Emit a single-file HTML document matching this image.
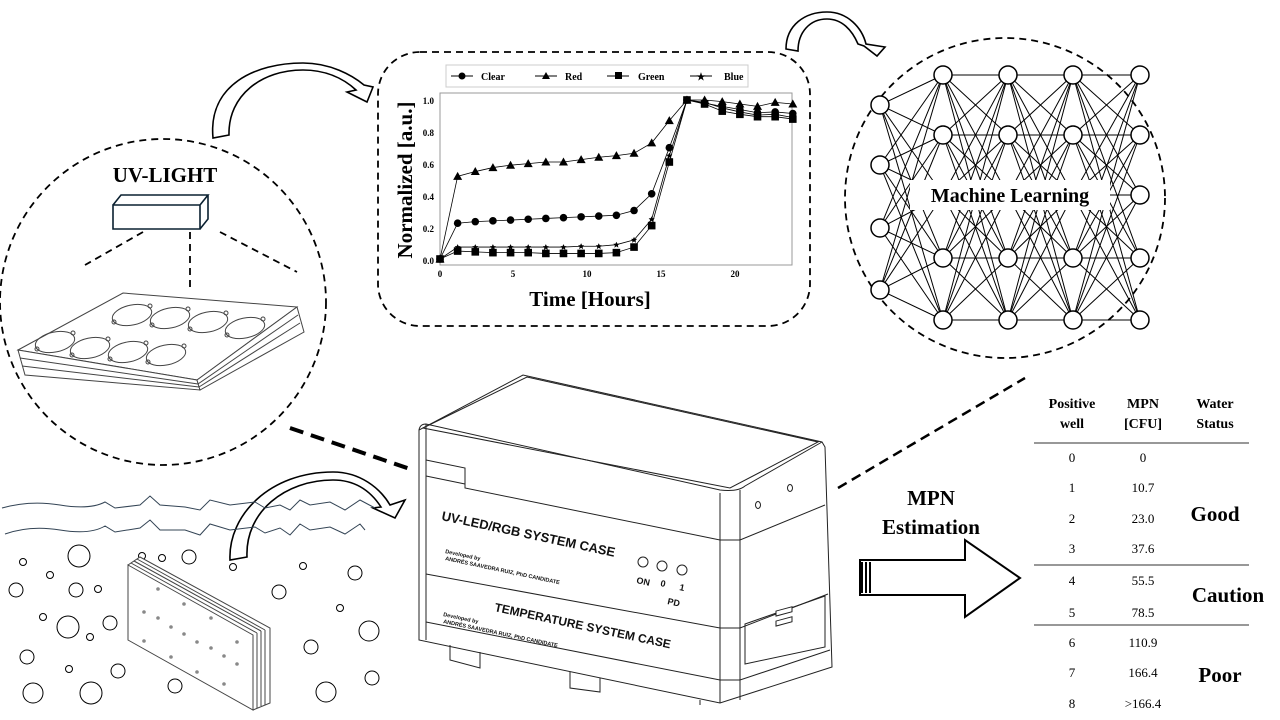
<!DOCTYPE html>
<html><head><meta charset="utf-8"><style>
html,body{margin:0;padding:0;background:#fff;}
svg{display:block;font-family:"Liberation Serif",serif;}
.s{font-family:"Liberation Sans",sans-serif;}
</style></head><body>
<svg id="sv" width="1280" height="720" viewBox="0 0 1280 720" xmlns="http://www.w3.org/2000/svg">
<rect width="1280" height="720" fill="#fff"/>
<circle cx="163" cy="302" r="163" fill="none" stroke="#000" stroke-width="1.8" stroke-dasharray="7,5"/>
<rect x="378" y="52" width="432" height="274" rx="42" fill="none" stroke="#000" stroke-width="1.8" stroke-dasharray="7,5"/>
<circle cx="1005" cy="198" r="160" fill="none" stroke="#000" stroke-width="1.8" stroke-dasharray="7,5"/>
<line x1="290" y1="428" x2="413" y2="470" stroke="#000" stroke-width="4" stroke-dasharray="14,8"/>
<line x1="838" y1="488" x2="1025" y2="378" stroke="#000" stroke-width="2.5" stroke-dasharray="10,6"/>

<g fill="#fff" stroke="#000" stroke-width="1.6">
<path d="M213,138 C208,85 255,63 303,63 C330,63 352,75 364,85 L373,87 L367,102 L347,92 L356,90 C343,78 325,70 303,70 C262,70 228,95 229,135 Z"/>
<path d="M786,49 C786,25 805,12 827,12 C848,12 862,28 866,44 L885,47 L877,56 L864,46 L858,44 C852,30 842,19 827,19 C810,19 798,32 798,51 Z"/>
<path d="M230,560 C228,515 270,472 333,472 C360,472 380,488 390,505 L405,500 L395,518 L373,508 L381,507 C370,490 355,480 333,480 C285,480 245,512 247,557 Z"/>
</g>

<text x="165" y="182" font-size="21" font-weight="bold" text-anchor="middle">UV-LIGHT</text>
<g fill="none" stroke="#0a2030" stroke-width="1.6">
<path d="M113,205 L200,205 L200,229 L113,229 Z M113,205 L121,195 L208,195 L200,205 M208,195 L208,219 L200,229"/>
</g>
<g stroke="#000" stroke-width="1.8" stroke-dasharray="7,5">
<line x1="143" y1="232" x2="85" y2="265"/><line x1="190" y1="232" x2="190" y2="290"/><line x1="220" y1="232" x2="297" y2="272"/>
</g>
<g fill="#fff" stroke="#444" stroke-width="1">
<path d="M18,350 L123,293 L297,307 L197,380 Z"/>
<path d="M18,350 L197,380 L200,390 L25,375 Z"/>
<path d="M197,380 L297,307 L304,332 L200,390 Z"/>
<line x1="20" y1="358" x2="198" y2="384"/><line x1="22" y1="366" x2="199" y2="387"/>
<line x1="298" y1="315" x2="198" y2="384"/><line x1="300" y1="323" x2="199" y2="387"/>
</g>
<g id="wells" fill="none" stroke="#444" stroke-width="1"></g>

<g fill="none" stroke="#345" stroke-width="1">
<path d="M2,508 Q30,500 60,505 T105,502 L115,508 L140,505 L150,496 L160,505 L185,507 L200,510 L210,500 L230,505 L255,502 L265,508 L280,505 L290,510 L300,500 L310,505 L330,502 L345,510 L360,500 L375,508"/>
<path d="M5,534 Q30,525 60,530 T105,526 L115,532 L140,528 L150,520 L160,530 L185,530 L200,535 L210,524 L230,530 L255,527 L265,533 L280,528 L290,535 L300,524 L310,530 L330,527 L345,534 L360,524 L365,530"/>
</g>
<g id="bub" fill="none" stroke="#000" stroke-width="1"></g>
<g fill="#fff" stroke="#444" stroke-width="1">
<path d="M128,565 L140,557 L270,628 L270,703 L253,710 Z"/>
<path d="M128,565 L253,635 L253,710 L128,640 Z"/>
<line x1="131" y1="563" x2="257" y2="633"/><line x1="134" y1="561" x2="261" y2="631"/><line x1="137" y1="559" x2="265" y2="630"/>
<line x1="257" y1="633" x2="257" y2="708"/><line x1="261" y1="631" x2="261" y2="706"/><line x1="265" y1="630" x2="265" y2="705"/>
</g>
<g id="dots" fill="#888"></g>

<g class="s" font-weight="bold" font-size="10">
<rect x="446" y="65" width="302" height="22" fill="#fff" stroke="#ccc"/>
<line x1="451" y1="76" x2="473" y2="76" stroke="#000"/><circle cx="462" cy="76" r="3.5"/><text x="481" y="80" font-family="Liberation Serif">Clear</text>
<line x1="535" y1="76" x2="557" y2="76" stroke="#000"/><path d="M546,72 L550,79 L542,79Z"/><text x="565" y="80" font-family="Liberation Serif">Red</text>
<line x1="607" y1="76" x2="629" y2="76" stroke="#000"/><rect x="615" y="72" width="7" height="7"/><text x="638" y="80" font-family="Liberation Serif">Green</text>
<line x1="690" y1="76" x2="712" y2="76" stroke="#000"/><text x="701" y="80" text-anchor="middle" font-size="10">★</text><text x="724" y="80" font-family="Liberation Serif">Blue</text>
</g>
<rect x="440" y="93" width="352" height="172" fill="none" stroke="#999"/>
<g font-size="9" font-weight="bold">
<text x="434" y="104" text-anchor="end">1.0</text><text x="434" y="136" text-anchor="end">0.8</text><text x="434" y="168" text-anchor="end">0.6</text><text x="434" y="200" text-anchor="end">0.4</text><text x="434" y="232" text-anchor="end">0.2</text><text x="434" y="264" text-anchor="end">0.0</text>
<text x="440" y="277" text-anchor="middle">0</text><text x="513" y="277" text-anchor="middle">5</text><text x="587" y="277" text-anchor="middle">10</text><text x="661" y="277" text-anchor="middle">15</text><text x="735" y="277" text-anchor="middle">20</text>
</g>
<text x="590" y="306" font-size="21" font-weight="bold" text-anchor="middle">Time [Hours]</text>
<text transform="translate(412,180) rotate(-90)" font-size="21" font-weight="bold" text-anchor="middle">Normalized [a.u.]</text>
<g id="chart"></g>

<g id="nn" stroke="#000" stroke-width="1"></g>
<rect x="910" y="180" width="200" height="30" fill="#fff"/>
<text x="1010" y="202" font-size="20" font-weight="bold" text-anchor="middle">Machine Learning</text>

<g fill="#fff" stroke="#222" stroke-width="1">
<path d="M419,430 L419,640 L720,703 L832,667 L825,447 L822,442 L523,375 Z"/>
<path d="M423,428 L527,377 L818,442 L730,488 Z" fill="#fff"/>
<path d="M419,430 Q420,424 426,424 L720,490 Q738,492 745,486 L822,442" fill="none"/>
<path d="M426,424 L426,640 M720,493 L720,703 M740,490 L740,700" fill="none"/>
<path d="M426,460 L465,468 L465,488 L720,540 L740,540 L825,505" fill="none"/>
<path d="M426,476 L465,484" fill="none"/>
<path d="M426,574 L720,628 L740,628 L828,594" fill="none"/>
<path d="M426,622 L720,680 L740,680 L830,650" fill="none"/>
<path d="M745,624 L825,596 L825,647 L745,664 Z" fill="none"/>
<rect x="776" y="614" width="16" height="5" transform="skewY(-15) translate(0,205)"/>
<rect x="776" y="624" width="16" height="5" transform="skewY(-15) translate(0,205)"/>
<path d="M450,645 L450,660 L480,668 L480,652 M570,672 L570,688 L600,692 L600,678 M700,700 L700,705" fill="none"/>
<ellipse cx="758" cy="505" rx="2.5" ry="3.5"/><ellipse cx="790" cy="488" rx="2.5" ry="3.5"/>
<circle cx="643" cy="562" r="5"/><circle cx="662" cy="566" r="5"/><circle cx="682" cy="570" r="5"/>
</g>
<g class="s" font-weight="bold" fill="#111">
<text transform="translate(441,520) rotate(12)" font-size="13">UV-LED/RGB SYSTEM CASE</text>
<text transform="translate(445,553) rotate(12)" font-size="5.5">Developed by</text>
<text transform="translate(445,560) rotate(12)" font-size="5.5">ANDRÉS SAAVEDRA RUIZ, PhD CANDIDATE</text>
<text transform="translate(636,583) rotate(12)" font-size="9">ON</text>
<text transform="translate(660,586) rotate(12)" font-size="9">0</text>
<text transform="translate(679,590) rotate(12)" font-size="9">1</text>
<text transform="translate(667,604) rotate(12)" font-size="9">PD</text>
<text transform="translate(494,611) rotate(12)" font-size="12">TEMPERATURE SYSTEM CASE</text>
<text transform="translate(443,616) rotate(12)" font-size="5.5">Developed by</text>
<text transform="translate(443,623) rotate(12)" font-size="5.5">ANDRÉS SAAVEDRA RUIZ, PhD CANDIDATE</text>
</g>

<text x="931" y="505" font-size="21" font-weight="bold" text-anchor="middle">MPN</text>
<text x="931" y="534" font-size="21" font-weight="bold" text-anchor="middle">Estimation</text>
<path d="M860,560 L965,560 L965,540 L1020,578 L965,617 L965,595 L860,595 Z" fill="#fff" stroke="#000" stroke-width="2"/>
<path d="M862,562 L862,593 M866,562 L866,593 M870,562 L870,593" stroke="#000" stroke-width="2"/>

<g font-size="13" text-anchor="middle">
<g font-weight="bold" font-size="14"><text x="1072" y="408">Positive</text><text x="1072" y="428">well</text>
<text x="1143" y="408">MPN</text><text x="1143" y="428">[CFU]</text>
<text x="1215" y="408">Water</text><text x="1215" y="428">Status</text></g>
<text x="1072" y="462">0</text><text x="1143" y="462">0</text>
<text x="1072" y="492">1</text><text x="1143" y="492">10.7</text>
<text x="1072" y="523">2</text><text x="1143" y="523">23.0</text>
<text x="1072" y="553">3</text><text x="1143" y="553">37.6</text>
<text x="1072" y="585">4</text><text x="1143" y="585">55.5</text>
<text x="1072" y="617">5</text><text x="1143" y="617">78.5</text>
<text x="1072" y="647">6</text><text x="1143" y="647">110.9</text>
<text x="1072" y="677">7</text><text x="1143" y="677">166.4</text>
<text x="1072" y="708">8</text><text x="1143" y="708">&gt;166.4</text>
<g font-size="21" font-weight="bold"><text x="1215" y="521">Good</text><text x="1228" y="602">Caution</text><text x="1220" y="682">Poor</text></g>
</g>
<g stroke="#777" stroke-width="1.5"><line x1="1034" y1="443" x2="1249" y2="443"/><line x1="1034" y1="565" x2="1249" y2="565"/><line x1="1034" y1="625" x2="1249" y2="625"/></g>
</svg>
<script>
var NS="http://www.w3.org/2000/svg";
function el(p,t,a){var e=document.createElementNS(NS,t);for(var k in a)e.setAttribute(k,a[k]);document.getElementById(p).appendChild(e);return e;}
var W=[[55,342],[90,348],[128,352],[166,355],[132,315],[170,318],[208,322],[245,328]];
W.forEach(function(w){el("wells","ellipse",{cx:w[0],cy:w[1],rx:20,ry:10,transform:"rotate(-12 "+w[0]+" "+w[1]+")"});el("wells","circle",{cx:w[0]-18,cy:w[1]+7,r:2});el("wells","circle",{cx:w[0]+18,cy:w[1]-9,r:2});});
[[79,556,11],[23,562,3.5],[50,575,3.5],[98,589,3.5],[16,590,7],[76,590,7],[43,617,3.5],[68,627,11],[110,623,7],[90,637,3.5],[27,657,7],[69,669,3.5],[118,671,7],[33,693,10],[91,693,11],[175,686,7],[142,556,3.5],[162,558,3.5],[189,557,7],[233,567,3.5],[303,566,3.5],[355,573,7],[279,592,7],[340,608,3.5],[369,631,10],[311,647,7],[372,678,7],[326,692,10]].forEach(function(b){el("bub","circle",{cx:b[0],cy:b[1],r:b[2]});});
[[158,589],[184,604],[144,612],[158,618],[171,627],[184,634],[197,642],[211,618],[237,642],[144,641],[171,657],[211,648],[224,656],[237,664],[197,672],[224,684]].forEach(function(d){el("dots","circle",{cx:d[0],cy:d[1],r:1.8});});
var T=[0,1.2,2.4,3.6,4.8,6,7.2,8.4,9.6,10.8,12,13.2,14.4,15.6,16.8,18,19.2,20.4,21.6,22.8,24];
var S={red:[0,0.52,0.55,0.575,0.59,0.60,0.61,0.61,0.625,0.64,0.65,0.665,0.73,0.87,1,1,0.99,0.975,0.96,0.985,0.975],
clear:[0,0.225,0.235,0.24,0.245,0.25,0.255,0.26,0.265,0.27,0.275,0.305,0.41,0.70,1,0.98,0.96,0.94,0.92,0.925,0.915],
green:[0,0.05,0.045,0.04,0.04,0.04,0.035,0.035,0.035,0.035,0.04,0.075,0.21,0.61,1,0.975,0.93,0.91,0.895,0.895,0.88],
blue:[0,0.075,0.075,0.075,0.075,0.075,0.075,0.075,0.08,0.08,0.09,0.12,0.25,0.65,1,0.985,0.95,0.925,0.905,0.91,0.89]};
function X(t){return 440+t*14.7;}function Y(v){return 259-v*159;}
for(var k in S){var pts=T.map(function(t,i){return X(t)+","+Y(S[k][i]);}).join(" ");
el("chart","polyline",{points:pts,fill:"none",stroke:"#000","stroke-width":0.8});
T.forEach(function(t,i){var x=X(t),y=Y(S[k][i]);
if(k=="clear")el("chart","circle",{cx:x,cy:y,r:3.8});
else if(k=="red")el("chart","path",{d:"M"+x+","+(y-4.5)+" L"+(x+4.5)+","+(y+3.5)+" L"+(x-4.5)+","+(y+3.5)+"Z"});
else if(k=="green")el("chart","rect",{x:x-3.8,y:y-3.8,width:7.6,height:7.6});
else el("chart","path",{d:"M"+x+","+(y-3)+" L"+(x+1)+","+(y-1)+" L"+(x+3)+","+(y-1)+" L"+(x+1.5)+","+(y+0.7)+" L"+(x+2)+","+(y+3)+" L"+x+","+(y+1.5)+" L"+(x-2)+","+(y+3)+" L"+(x-1.5)+","+(y+0.7)+" L"+(x-3)+","+(y-1)+" L"+(x-1)+","+(y-1)+"Z"});});}
var L=[[880,[105,165,228,290]],[943,[75,135,195,258,320]],[1008,[75,135,195,258,320]],[1073,[75,135,195,258,320]],[1140,[75,135,195,258,320]]];
for(var i=0;i<L.length-1;i++)L[i][1].forEach(function(a){L[i+1][1].forEach(function(b){el("nn","line",{x1:L[i][0],y1:a,x2:L[i+1][0],y2:b});});});
L.forEach(function(l){l[1].forEach(function(y){el("nn","circle",{cx:l[0],cy:y,r:9,fill:"#fff","stroke-width":1.5});});});
</script>
</body></html>
